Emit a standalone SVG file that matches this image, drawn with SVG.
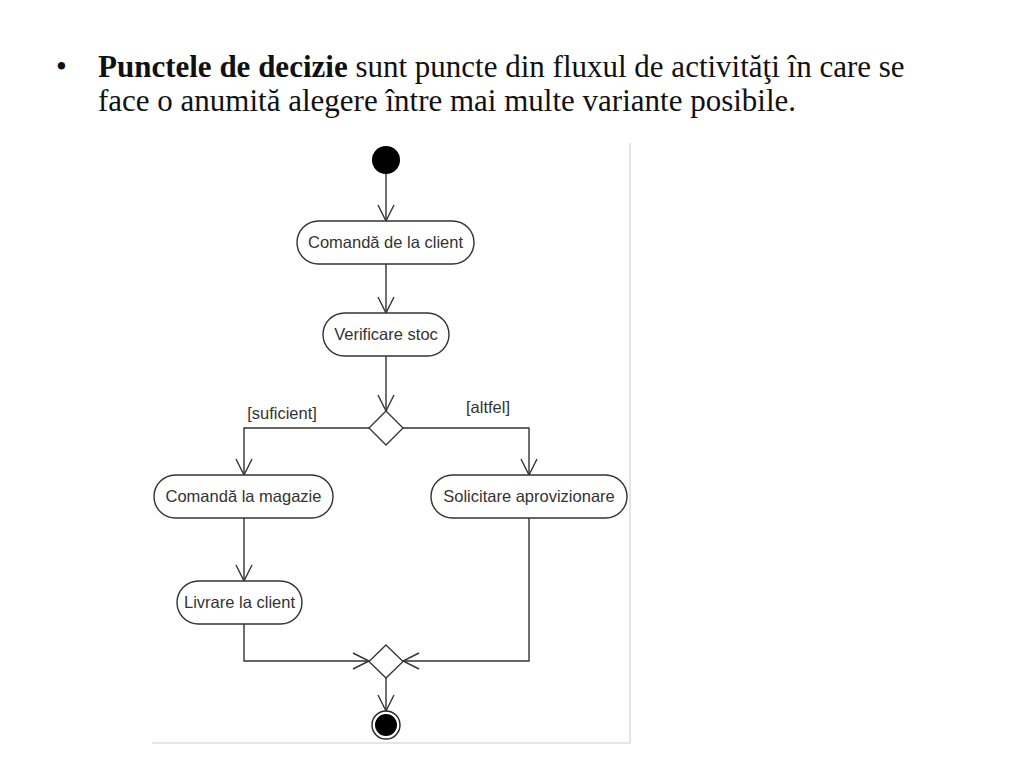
<svg xmlns="http://www.w3.org/2000/svg" width="1024" height="767" viewBox="0 0 1024 767">
<style>
.title{font-family:"Liberation Serif","Times New Roman",serif;font-size:31px;fill:#111}
.lbl{font-family:"Liberation Sans",Arial,sans-serif;font-size:16.5px;fill:#333;text-anchor:middle}
.act{fill:#fff;stroke:#333;stroke-width:1.4}
.dec{fill:#fff;stroke:#333;stroke-width:1.3}
.flow{fill:none;stroke:#333;stroke-width:1.4}
.frame{fill:none;stroke:#ddd;stroke-width:1.5}
</style>
<defs>
<marker id="arr" markerUnits="userSpaceOnUse" viewBox="-18 -10 20 20" markerWidth="20" markerHeight="20" refX="0" refY="0" orient="auto">
<path d="M-16,-8 L0,0 L-16,8" fill="none" stroke="#333" stroke-width="1.4"/>
</marker>
</defs>
<rect width="1024" height="767" fill="#fff"/>
<g id="title">
<text class="title" x="56" y="77">•</text>
<text class="title" x="98" y="77"><tspan font-weight="bold">Punctele de decizie</tspan> sunt puncte din fluxul de activităţi în care se</text>
<text class="title" x="98" y="111">face o anumită alegere între mai multe variante posibile.</text>
</g>
<g id="frame">
<path class="frame" d="M630,143 V743 H152"/>
</g>
<g id="connectors">
<path class="flow" d="M386,174 V221" marker-end="url(#arr)"/>
<path class="flow" d="M386,264 V313" marker-end="url(#arr)"/>
<path class="flow" d="M386,356 V411" marker-end="url(#arr)"/>
<path class="flow" d="M369,428 H244 V475" marker-end="url(#arr)"/>
<path class="flow" d="M403,428 H529 V475" marker-end="url(#arr)"/>
<path class="flow" d="M244,518 V581" marker-end="url(#arr)"/>
<path class="flow" d="M244,624 V661 H369" marker-end="url(#arr)"/>
<path class="flow" d="M529,518 V661 H403" marker-end="url(#arr)"/>
<path class="flow" d="M386,678 V711" marker-end="url(#arr)"/>
<text class="lbl" x="282" y="419">[suficient]</text>
<text class="lbl" x="488" y="413">[altfel]</text>
</g>
<g id="start"><circle cx="386" cy="160" r="14" fill="#000"/></g>
<g id="comanda-client">
<rect class="act" x="297" y="221" width="177" height="43" rx="21.5"/>
<text class="lbl" x="385.5" y="248">Comandă de la client</text>
</g>
<g id="verificare-stoc">
<rect class="act" x="323" y="313" width="126" height="43" rx="21.5"/>
<text class="lbl" x="386" y="340">Verificare stoc</text>
</g>
<g id="decizie">
<path class="dec" d="M386,411 L403,428 L386,445 L369,428 Z"/>
</g>
<g id="comanda-magazie">
<rect class="act" x="154" y="475" width="179" height="43" rx="21.5"/>
<text class="lbl" x="243.5" y="502">Comandă la magazie</text>
</g>
<g id="solicitare">
<rect class="act" x="431" y="475" width="196" height="43" rx="21.5"/>
<text class="lbl" x="529" y="502">Solicitare aprovizionare</text>
</g>
<g id="livrare">
<rect class="act" x="177" y="581" width="125" height="43" rx="21.5"/>
<text class="lbl" x="239.5" y="608">Livrare la client</text>
</g>
<g id="merge">
<path class="dec" d="M386,645 L403,661.5 L386,678 L369,661.5 Z"/>
</g>
<g id="end">
<circle cx="386" cy="725" r="14" fill="#fff" stroke="#222" stroke-width="1.4"/>
<circle cx="386" cy="725" r="11" fill="#000"/>
</g>
</svg>
